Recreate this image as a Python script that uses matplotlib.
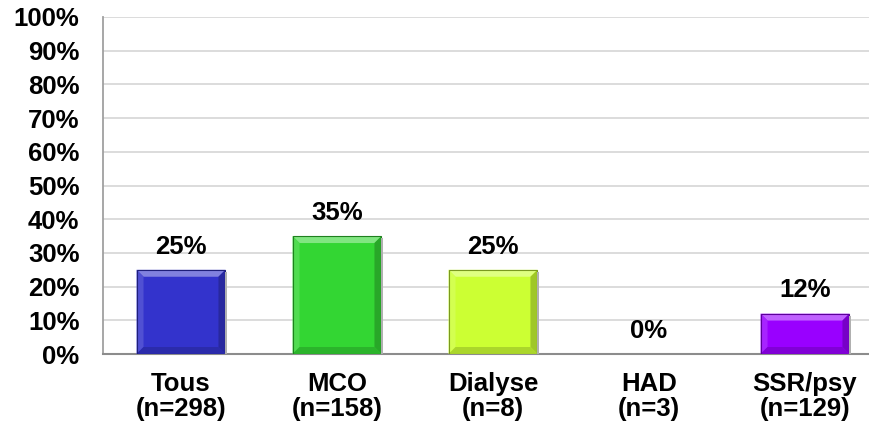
import matplotlib
matplotlib.use("Agg")
import matplotlib.pyplot as plt
import matplotlib.colors as mcolors
from matplotlib.patches import Polygon
from matplotlib.transforms import IdentityTransform

categories = ["Tous\n(n=298)", "MCO\n(n=158)", "Dialyse\n(n=8)", "HAD\n(n=3)", "SSR/psy\n(n=129)"]
values = [25, 35, 25, 0, 12]
colors = ["#3333CC", "#33D633", "#CCFF33", "#33D633", "#9900FF"]
yticks = [0, 10, 20, 30, 40, 50, 60, 70, 80, 90, 100]

plt.rcParams["font.family"] = ["Liberation Sans", "DejaVu Sans"]
plt.rcParams["font.weight"] = "bold"

W, H, DPI = 869, 433, 100
fig = plt.figure(figsize=(W / DPI, H / DPI), dpi=DPI)
fig.patch.set_facecolor("white")

# plot area in pixels: left 103, width 780 (runs past right edge), bottom 354, top 17
ax = fig.add_axes([103 / W, (H - 354) / H, 780 / W, (354 - 17) / H])
ax.set_xlim(-0.5, len(categories) - 0.5)
ax.set_ylim(0, 100)

ax.set_yticks(yticks)
ax.set_yticklabels([f"{t}%" for t in yticks], fontsize=18.5, fontweight="bold")
ax.set_xticks(range(len(categories)))
ax.set_xticklabels(categories, fontsize=18.5, fontweight="bold", linespacing=1.05)
ax.tick_params(axis="y", length=0, pad=17)
ax.tick_params(axis="x", length=0, pad=13)

ax.yaxis.grid(True, color="#D9D9D9", linewidth=1.3)
ax.set_axisbelow(True)
for s in ("top", "right"):
    ax.spines[s].set_visible(False)
ax.spines["left"].set_color("#A0A0A0")
ax.spines["bottom"].set_color("#8C8C8C")
ax.spines["left"].set_linewidth(1.3)
ax.spines["bottom"].set_linewidth(1.5)

bars = ax.bar(range(len(categories)), values, width=0.57, color=colors,
              edgecolor="none", zorder=2)


def shade(c, f):
    r, g, b = mcolors.to_rgb(c)
    if f >= 0:
        return (r + (1 - r) * f, g + (1 - g) * f, b + (1 - b) * f)
    return (r * (1 + f), g * (1 + f), b * (1 + f))


fig.canvas.draw()
bev = 7
for bar, c in zip(bars, colors):
    h = bar.get_height()
    if h <= 0:
        continue
    (x0, y0), (x1, y1) = ax.transData.transform(
        [(bar.get_x(), 0), (bar.get_x() + bar.get_width(), h)])
    b = min(bev, (y1 - y0) / 2.5)
    faces = [
        ([(x0, y1), (x1, y1), (x1 - b, y1 - b), (x0 + b, y1 - b)], shade(c, 0.38)),
        ([(x0, y0), (x0 + b, y0 + b), (x0 + b, y1 - b), (x0, y1)], shade(c, 0.14)),
        ([(x1, y0), (x1, y1), (x1 - b, y1 - b), (x1 - b, y0 + b)], shade(c, -0.22)),
        ([(x0, y0), (x1, y0), (x1 - b, y0 + b), (x0 + b, y0 + b)], shade(c, -0.16)),
    ]
    # soft shadow to the right
    fig.patches.append(Polygon([(x1, y0), (x1 + 2, y0), (x1 + 2, y1 - 2), (x1, y1 - 2)],
                               closed=True, transform=IdentityTransform(),
                               facecolor="#B0B0B0", edgecolor="none", zorder=1.5))
    for pts, fc in faces:
        ax.add_patch(Polygon(pts, closed=True, transform=IdentityTransform(),
                             facecolor=fc, edgecolor="none", zorder=3))
    ax.add_patch(Polygon([(x0, y0), (x1, y0), (x1, y1), (x0, y1)], closed=True,
                         transform=IdentityTransform(), facecolor="none",
                         edgecolor=shade(c, -0.4), linewidth=0.8, zorder=4))

for i, v in enumerate(values):
    ax.annotate(f"{v}%", xy=(i, v), xytext=(0, 8), textcoords="offset points",
                ha="center", va="bottom", fontsize=18.5, fontweight="bold", zorder=5)

fig.savefig("out.png", dpi=DPI, facecolor="white")
